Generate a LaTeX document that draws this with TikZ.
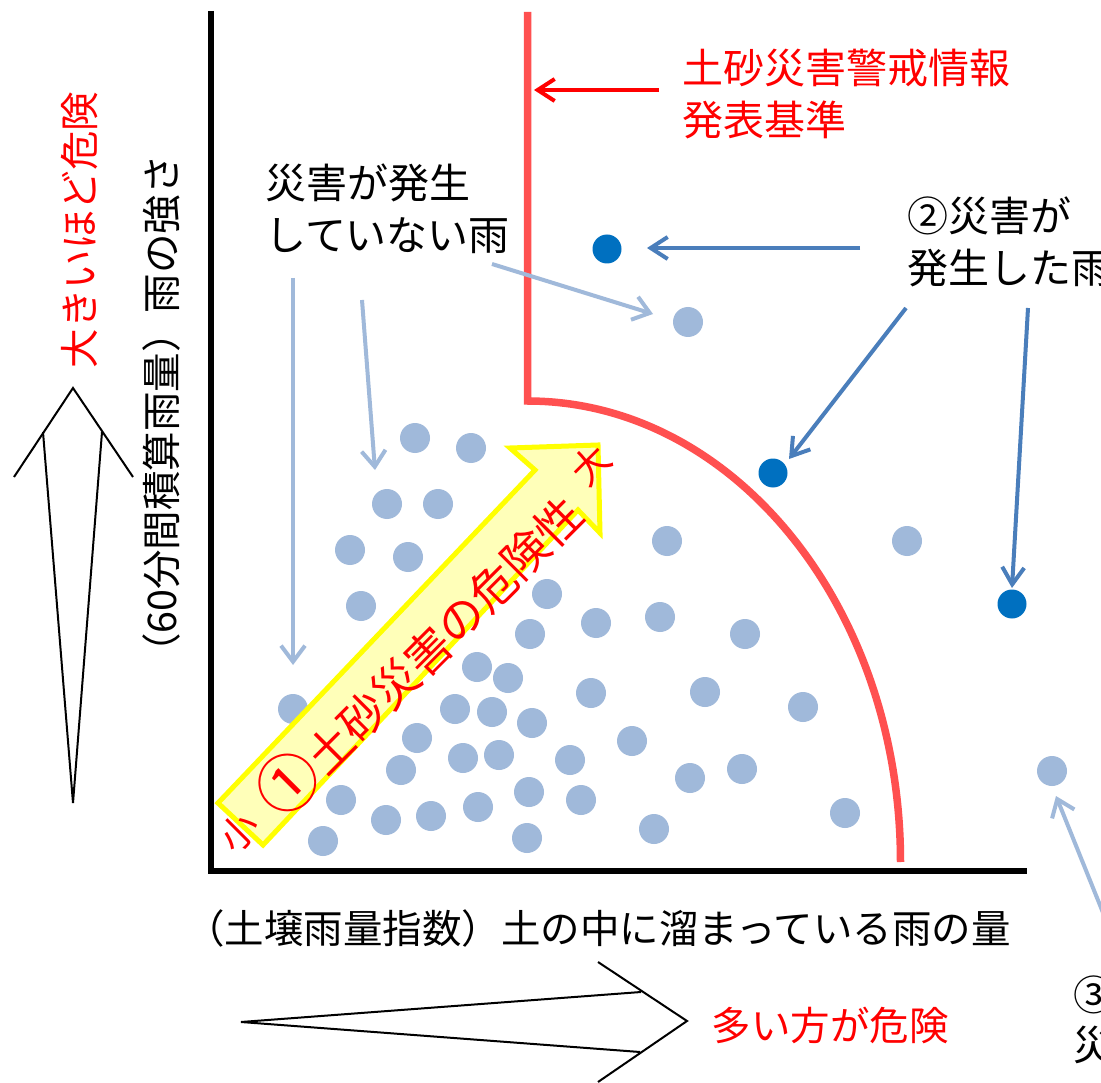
\documentclass[tikz,border=0pt]{standalone}
\usepackage{fontspec}
\newfontfamily\jp{Noto Sans CJK JP}
\usetikzlibrary{arrows.meta}
\definecolor{critred}{RGB}{255,80,80}
\definecolor{txtred}{RGB}{255,0,0}
\definecolor{lblue}{RGB}{160,185,218}
\definecolor{dblue}{RGB}{0,112,192}
\definecolor{ablue}{RGB}{74,126,187}
\definecolor{yfill}{RGB}{255,255,185}
\definecolor{yedge}{RGB}{255,255,0}
\begin{document}
\begin{tikzpicture}[x=1pt,y=-1pt,
  ldot/.style={circle,fill=lblue,minimum size=30pt,inner sep=0pt},
  ddot/.style={circle,fill=dblue,minimum size=29pt,inner sep=0pt},
  jtxt/.style={font=\jp\fontsize{41}{52}\selectfont,inner sep=0pt,align=left},
  axtxt/.style={font=\jp\fontsize{39.5}{45}\selectfont,inner sep=0pt},
  lbarrow/.style={draw=lblue,line width=4pt,-{Straight Barb[length=16pt,width=24pt]}},
  dbarrow/.style={draw=ablue,line width=4pt,-{Straight Barb[length=17pt,width=22pt]}},
  rdarrow/.style={draw=txtred,line width=4pt,-{Straight Barb[length=17pt,width=22pt]}},
  bigarrow/.style={draw=black,line width=2pt,line join=miter}
]
\useasboundingbox[fill=white] (0,0) rectangle (1101,1083);

% light dots
\foreach \px/\py [count=\i] in {688/322,415/438,471/448,387/504,438/504,350/550,408/557,361/606,
  667/541,907/541,547/594,596/623,660/617,530/634,745/634,477/667,508/678,591/693,705/692,803/707,
  293/709,455/709,492/712,532/723,417/738,632/741,463/758,499/755,570/760,401/770,690/778,742/769,
  1052/771,341/800,529/792,581/800,386/820,431/816,478/807,845/813,323/841,527/838,654/829}
  \node[ldot] (l\i) at (\px,\py) {};
% dark dots
\node[ddot] (dA) at (607,249) {};
\node[ddot] (dB) at (773,473) {};
\node[ddot] (dC) at (1012,604) {};

% axes
\draw[line width=5.5pt] (211,11) -- (211,870.75) -- (1027,870.75);

% criterion line
\draw[critred,line width=7.5pt] (527.5,12) -- (527.5,401)
  arc[start angle=-90,end angle=0,x radius=373,y radius=461];

% yellow arrow
\draw[draw=yedge,fill=yfill,line width=5pt,line join=miter]
  (218,803) -- (535,470) -- (510,448) -- (598,445) -- (600,533) -- (578,510) -- (263,845) -- cycle;
\node[font=\jp\fontsize{46}{50}\selectfont,text=txtred,rotate=45,inner sep=0pt] (risk) at (418,653)
  {{\fontsize{62}{62}\selectfont ①}土砂災害の危険性};
\node[font=\jp\fontsize{38}{40}\selectfont,text=txtred,rotate=45,inner sep=0pt] (big) at (591,465) {大};
\node[font=\jp\fontsize{38}{40}\selectfont,text=txtred,rotate=45,inner sep=0pt] (small) at (239,832) {小};

% labels
\node[jtxt,text=txtred,anchor=west] (crit) at (682,94) {土砂災害警戒情報\\発表基準};
\node[jtxt,anchor=west] (occ) at (907,242) {②災害が\\発生した雨};
\node[jtxt,anchor=west] (nocc) at (265,209) {災害が発生\\していない雨};
\node[jtxt,anchor=west] (third) at (1073,995) {③};
\node[jtxt,anchor=west] (third2) at (1073,1045) {災};
\node[axtxt] (xlab) at (598,928) {（土壌雨量指数）土の中に溜まっている雨の量};
\node[axtxt,rotate=90] (ylab) at (161,414) {（60分間積算雨量）雨の強さ};
\node[axtxt,text=txtred,rotate=90] (ydanger) at (80,230) {大きいほど危険};
\node[axtxt,text=txtred] (xdanger) at (830,1025) {多い方が危険};

% connectors
\coordinate (cr0) at (659,90); \coordinate (cr1) at (534,90);
\draw[rdarrow] (cr0) -- (cr1);
\coordinate (a0) at (860,248); \coordinate (a1) at (647,248);
\draw[dbarrow] (a0) -- (a1);
\coordinate (b0) at (906,308); \coordinate (b1) at (789,459);
\draw[dbarrow] (b0) -- (b1);
\coordinate (c0) at (1028,308); \coordinate (c1) at (1012,588);
\draw[dbarrow] (c0) -- (c1);
\coordinate (n0) at (293,278); \coordinate (n1) at (293,665);
\draw[lbarrow] (n0) -- (n1);
\coordinate (m0) at (362,300); \coordinate (m1) at (375,470);
\draw[lbarrow] (m0) -- (m1);
\coordinate (k0) at (492,264); \coordinate (k1) at (653,314);
\draw[lbarrow] (k0) -- (k1);
\coordinate (t0) at (1112,935); \coordinate (t1) at (1056,796);
\draw[lbarrow] (t0) -- (t1);

% big open arrows
\draw[bigarrow] (14,477) -- (73,388) -- (133,477);
\draw[bigarrow] (43,432) -- (73,803) -- (102,432);
\draw[bigarrow] (598,962) -- (687,1021) -- (598,1082);
\draw[bigarrow] (641,992) -- (241,1022) -- (640,1052);
\end{tikzpicture}
\end{document}
